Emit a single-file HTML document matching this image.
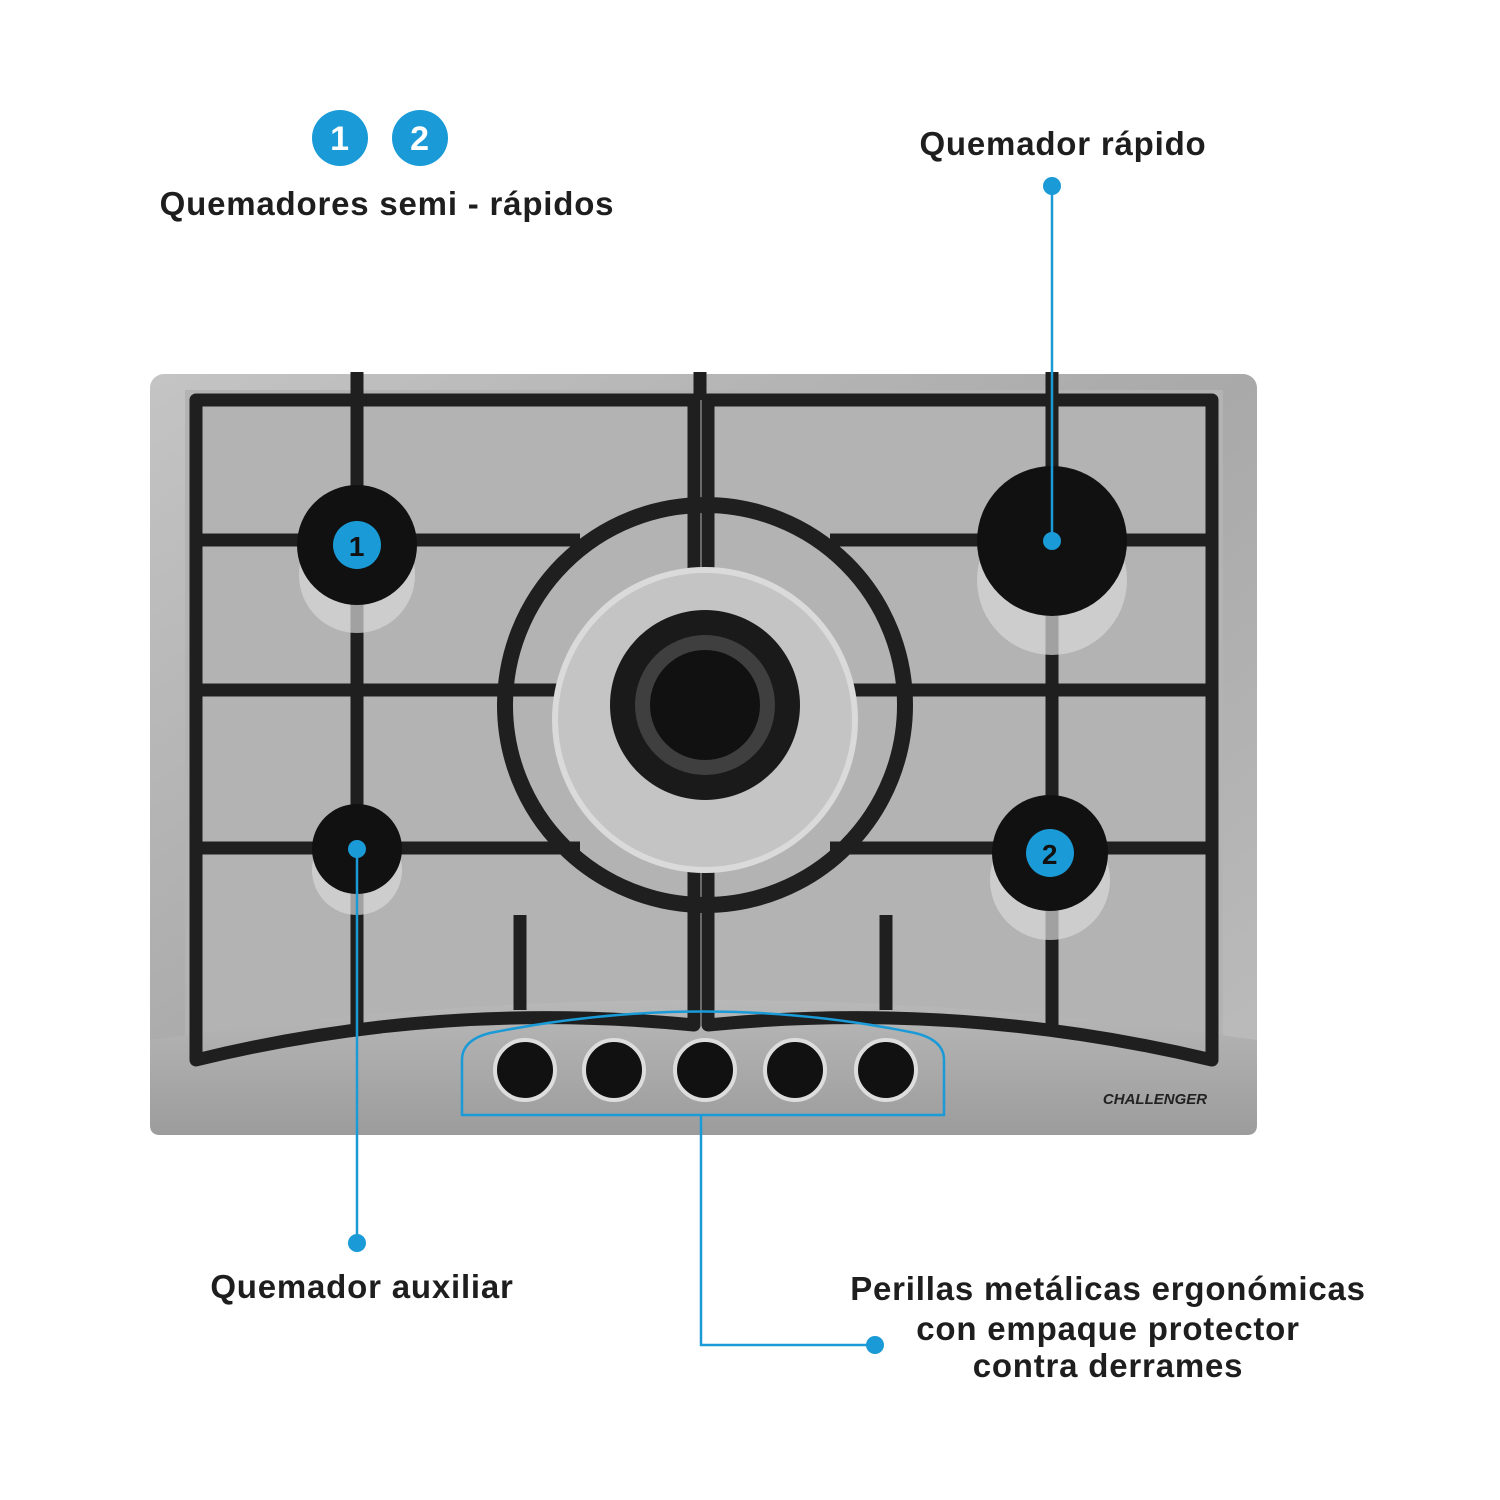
<!DOCTYPE html>
<html><head><meta charset="utf-8"><style>
html,body{margin:0;padding:0;background:#fff;}
svg{display:block}
text{font-family:"Liberation Sans",sans-serif;font-weight:bold;fill:#1e1e1e;letter-spacing:0.8px}
</style></head><body>
<svg width="1500" height="1500" viewBox="0 0 1500 1500" xmlns="http://www.w3.org/2000/svg">
<defs>
<linearGradient id="steel" x1="0" y1="0" x2="1" y2="1">
<stop offset="0" stop-color="#c4c4c4"/><stop offset="0.5" stop-color="#a9a9a9"/><stop offset="1" stop-color="#bdbdbd"/>
</linearGradient>
<linearGradient id="panel" x1="0" y1="0" x2="0" y2="1">
<stop offset="0" stop-color="#b8b8b8"/><stop offset="1" stop-color="#9c9c9c"/>
</linearGradient>
</defs>
<rect x="150" y="374" width="1107" height="761" rx="14" fill="url(#steel)"/>
<rect x="185" y="390" width="1038" height="680" fill="#b3b3b3"/>
<path d="M150 1040 Q705 960 1257 1040 L1257 1125 Q1257 1135 1247 1135 L160 1135 Q150 1135 150 1125 Z" fill="url(#panel)"/>
<g fill="none" stroke="#1f1f1f" stroke-width="13" stroke-linejoin="round">
<path d="M196 400 L694 400 L694 1025 Q440 1000 196 1060 Z"/>
<path d="M708 400 L1212 400 L1212 1060 Q960 1000 708 1025 Z"/>
<circle cx="705" cy="705" r="200" stroke-width="16"/>
<line x1="196" y1="690" x2="1212" y2="690"/>
<line x1="196" y1="540" x2="580" y2="540"/>
<line x1="830" y1="540" x2="1212" y2="540"/>
<line x1="196" y1="848" x2="580" y2="848"/>
<line x1="830" y1="848" x2="1212" y2="848"/>
<line x1="357" y1="372" x2="357" y2="1025"/>
<line x1="1052" y1="372" x2="1052" y2="1025"/>
<line x1="700" y1="372" x2="700" y2="400"/>
<line x1="520" y1="915" x2="520" y2="1010"/>
<line x1="886" y1="915" x2="886" y2="1010"/>
</g>
<circle cx="357" cy="575" r="58" fill="#d8d8d8" opacity="0.7"/>
<circle cx="357" cy="545" r="60" fill="#111"/>
<circle cx="1052" cy="580" r="75" fill="#d8d8d8" opacity="0.7"/>
<circle cx="1052" cy="541" r="75" fill="#111"/>
<circle cx="357" cy="870" r="45" fill="#d8d8d8" opacity="0.7"/>
<circle cx="357" cy="849" r="45" fill="#111"/>
<circle cx="1050" cy="880" r="60" fill="#d8d8d8" opacity="0.7"/>
<circle cx="1050" cy="853" r="58" fill="#111"/>
<circle cx="705" cy="720" r="150" fill="#c4c4c4" stroke="#dadada" stroke-width="6"/>
<circle cx="705" cy="705" r="95" fill="#1a1a1a"/>
<circle cx="705" cy="705" r="70" fill="#777" opacity="0.4"/>
<circle cx="705" cy="705" r="55" fill="#111"/>
<g fill="#111" stroke="#ddd" stroke-width="4">
<circle cx="525" cy="1070" r="30"/><circle cx="614" cy="1070" r="30"/><circle cx="705" cy="1070" r="30"/><circle cx="795" cy="1070" r="30"/><circle cx="886" cy="1070" r="30"/>
</g>
<text x="1155" y="1104" font-size="15" text-anchor="middle" style="font-style:italic;fill:#222;letter-spacing:0">CHALLENGER</text>
<g stroke="#1a9ad6" stroke-width="2.5" fill="none">
<path d="M462 1115 L462 1060 Q462 1040 490 1033 Q705 990 915 1033 Q944 1040 944 1060 L944 1115 Z"/>
<line x1="1052" y1="186" x2="1052" y2="541"/>
<line x1="357" y1="849" x2="357" y2="1243"/>
<path d="M701 1115 L701 1345 L875 1345"/>
</g>
<g fill="#1a9ad6">
<circle cx="1052" cy="186" r="9"/><circle cx="1052" cy="541" r="9"/>
<circle cx="357" cy="849" r="9"/><circle cx="357" cy="1243" r="9"/>
<circle cx="875" cy="1345" r="9"/>
<circle cx="340" cy="138" r="28"/><circle cx="420" cy="138" r="28"/>
<circle cx="357" cy="545" r="24"/><circle cx="1050" cy="853" r="24"/>
</g>
<g font-size="34" text-anchor="middle">
<text x="340" y="150" style="fill:#fff">1</text><text x="420" y="150" style="fill:#fff">2</text>
<text x="357" y="556" font-size="28" style="fill:#111">1</text><text x="1050" y="864" font-size="28" style="fill:#111">2</text>
</g>
<g font-size="33" text-anchor="middle">
<text x="387" y="215">Quemadores semi - rápidos</text>
<text x="1063" y="155">Quemador rápido</text>
<text x="362" y="1298">Quemador auxiliar</text>
<text x="1108" y="1300">Perillas metálicas ergonómicas</text>
<text x="1108" y="1340">con empaque protector</text>
<text x="1108" y="1377">contra derrames</text>
</g>
</svg>
</body></html>
